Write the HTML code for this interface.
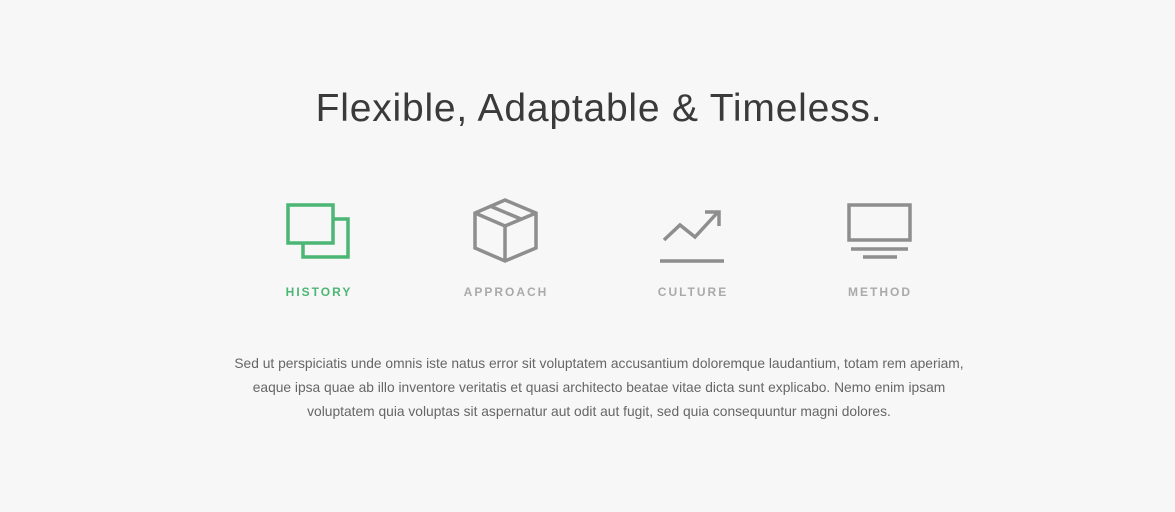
<!DOCTYPE html>
<html><head><style>
body{margin:0;width:1175px;height:512px;background:#f7f7f7;position:relative;overflow:hidden;font-family:"Liberation Sans",sans-serif}
h1{position:absolute;left:0;width:1198px;top:87px;margin:0;text-align:center;font-weight:300;font-size:39px;color:#3a3a3a;letter-spacing:0.8px}
.lab{position:absolute;top:285px;font-size:12px;font-weight:bold;letter-spacing:2px;color:#aaa;text-align:center;width:160px}
p{position:absolute;left:0;width:1198px;top:352px;margin:0;text-align:center;font-size:13.8px;line-height:24px;color:#666;white-space:nowrap}
svg{position:absolute;left:0;top:0}
</style></head><body>
<h1>Flexible, Adaptable &amp; Timeless.</h1>
<svg width="1175" height="512" fill="none" stroke-width="3.5">
<g stroke="#4cb675">
<rect x="288" y="205" width="45" height="38"/>
<polyline points="333,219 348,219 348,257 303,257 303,243"/>
</g>
<g stroke="#8e8e8e" stroke-linejoin="miter">
<polygon points="505,200 536,213 536,248 505,261 475,248 475,213"/>
<polyline points="475,213 505,226 536,213"/>
<line x1="505" y1="226" x2="505" y2="261"/>
<line x1="490" y1="206" x2="521" y2="219"/>
<line x1="660" y1="261" x2="724" y2="261"/>
<polyline points="664,240 680,225 695,237 718,212"/>
<polyline points="705,212 719,212 719,226"/>
<rect x="849" y="205" width="61" height="35"/>
<line x1="851" y1="249" x2="908" y2="249"/>
<line x1="863" y1="257" x2="897" y2="257"/>
</g>
</svg>
<div class="lab" style="left:239px;color:#4cb675">HISTORY</div>
<div class="lab" style="left:426px">APPROACH</div>
<div class="lab" style="left:613px">CULTURE</div>
<div class="lab" style="left:800px">METHOD</div>
<p>Sed ut perspiciatis unde omnis iste natus error sit voluptatem accusantium doloremque laudantium, totam rem aperiam,<br>eaque ipsa quae ab illo inventore veritatis et quasi architecto beatae vitae dicta sunt explicabo. Nemo enim ipsam<br>voluptatem quia voluptas sit aspernatur aut odit aut fugit, sed quia consequuntur magni dolores.</p>
</body></html>
